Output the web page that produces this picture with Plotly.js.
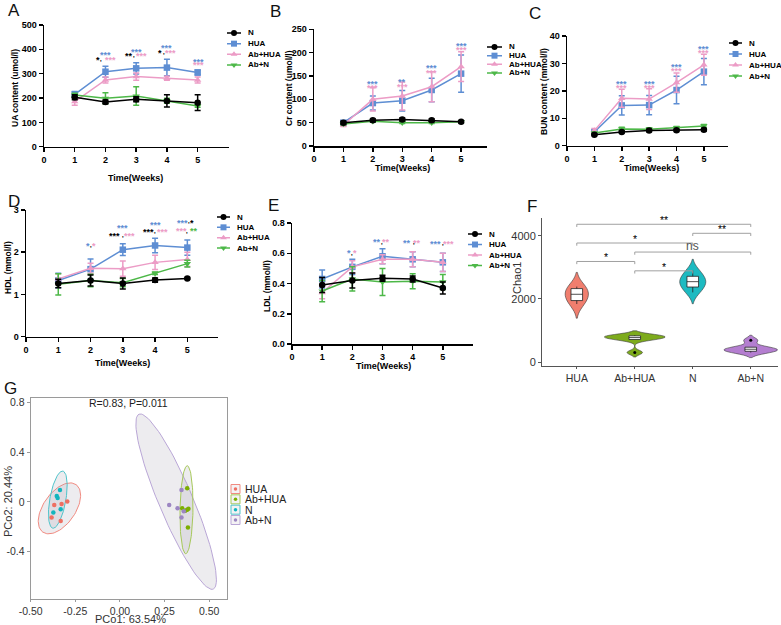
<!DOCTYPE html>
<html><head><meta charset="utf-8">
<script src="https://cdn.plot.ly/plotly-3.0.1.min.js"></script>
<style>html,body{margin:0;padding:0;background:#fff}#plot{width:781px;height:625px}</style>
</head><body><div id="plot"></div>
<script>
// ================= DATA =================
const weeks = [1, 2, 3, 4, 5];
const groups = ['N', 'HUA', 'Ab+HUA', 'Ab+N'];

// A: UA content (umol/l)
const uaN = [203, 184, 195, 188, 181],      uaNErr = [10, 8, 10, 25, 32];
const uaHUA = [215, 308, 322, 325, 305],    uaHUAErr = [12, 23, 23, 34, 10];
const uaAbHUA = [185, 274, 288, 281, 274],  uaAbHUAErr = [15, 12, 15, 8, 12];
const uaAbN = [212, 199, 208, 189, 167],    uaAbNErr = [8, 23, 38, 10, 5];
// B: Cr content (umol/l)
const crN = [50, 55, 57, 55, 52],           crNErr = [3, 3, 3, 3, 2];
const crHUA = [50, 92, 97, 120, 155],       crHUAErr = [3, 15, 22, 25, 40];
const crAbHUA = [45, 100, 107, 127, 170],   crAbHUAErr = [3, 25, 30, 32, 32];
const crAbN = [47, 53, 50, 50, 52],         crAbNErr = [2, 2, 2, 2, 2];
// C: BUN content (mmol/l)
const bunN = [4.0, 5.0, 5.5, 5.6, 5.8],      bunNErr = [0.3, 0.4, 0.4, 0.4, 0.4];
const bunHUA = [5.0, 14.7, 14.8, 20.3, 27.0], bunHUAErr = [0.8, 3.5, 3.5, 5, 4.8];
const bunAbHUA = [5.5, 17.3, 17.0, 23.0, 29.5], bunAbHUAErr = [0.8, 3.3, 3.8, 3.5, 3.8];
const bunAbN = [4.6, 6.1, 6.0, 6.5, 7.2],    bunAbNErr = [0.4, 0.6, 0.5, 0.5, 0.5];
// D: HDL (mmol/l)
const hdlN = [1.26, 1.33, 1.26, 1.34, 1.38],   hdlNErr = [0.1, 0.13, 0.13, 0.05, 0.02];
const hdlHUA = [1.33, 1.60, 2.06, 2.16, 2.11], hdlHUAErr = [0.17, 0.24, 0.14, 0.17, 0.18];
const hdlAbHUA = [1.37, 1.62, 1.61, 1.76, 1.83], hdlAbHUAErr = [0.12, 0.12, 0.18, 0.17, 0.17];
const hdlAbN = [1.24, 1.33, 1.28, 1.50, 1.73], hdlAbNErr = [0.25, 0.15, 0.1, 0.03, 0.08];
// E: LDL (mmol/l)
const ldlN = [0.39, 0.42, 0.435, 0.43, 0.37],  ldlNErr = [0.05, 0.05, 0.02, 0.02, 0.04];
const ldlHUA = [0.43, 0.51, 0.58, 0.56, 0.54], ldlHUAErr = [0.06, 0.05, 0.05, 0.05, 0.06];
const ldlAbHUA = [0.34, 0.51, 0.56, 0.56, 0.54], ldlAbHUAErr = [0.04, 0.04, 0.03, 0.05, 0.06];
const ldlAbN = [0.35, 0.43, 0.41, 0.415, 0.41], ldlAbNErr = [0.07, 0.08, 0.09, 0.05, 0.05];

// significance marks: [week, y, text, group]
const sigA = [[2,383,'***','HUA'],[2,366,'*','N'],[2,366,'***','Ab+HUA'],[2,347,"'",'N'],
  [3,397,'***','HUA'],[3,382,'**','N'],[3,382,'***','Ab+HUA'],[3,362,"'",'N'],
  [4,414,'***','HUA'],[4,393,'*','N'],[4,393,'***','Ab+HUA'],[4,373,"'",'N'],
  [5,356,'***','HUA'],[5,342,'***','Ab+HUA']];
const sigB = [[2,137,'***','HUA'],[2,128,'***','Ab+HUA'],[3,141,'**','HUA'],[3,130,'***','Ab+HUA'],
  [4,171,'***','HUA'],[4,161,'***','Ab+HUA'],[5,219,'***','HUA'],[5,210,'***','Ab+HUA']];
const sigC = [[2,23.4,'***','HUA'],[2,21.8,'***','Ab+HUA'],[3,23.4,'***','HUA'],[3,21.8,'***','Ab+HUA'],
  [4,29.3,'***','HUA'],[4,27.9,'***','Ab+HUA'],[5,36.1,'***','HUA'],[5,34.5,'***','Ab+HUA']];
const sigD = [[2,2.2,'*','HUA'],[2,2.2,'*','Ab+HUA'],[2,2.08,"'",'N'],
  [3,2.61,'***','HUA'],[3,2.44,'***','N'],[3,2.44,'***','Ab+HUA'],[3,2.33,"'",'N'],
  [4,2.70,'***','HUA'],[4,2.53,'***','N'],[4,2.53,'***','Ab+HUA'],[4,2.42,"'",'N'],
  [5,2.75,'***','HUA'],[5,2.75,'*','N'],[5,2.65,"'",'N'],[5,2.54,'***','Ab+HUA'],[5,2.54,'**','Ab+N'],[5,2.43,"'",'N']];
const sigE = [[2,0.613,'*','HUA'],[2,0.613,'*','Ab+HUA'],[2,0.58,"'",'N'],
  [3,0.686,'**','HUA'],[3,0.686,'**','Ab+HUA'],[3,0.653,"'",'N'],
  [4,0.681,'**','HUA'],[4,0.681,'**','Ab+HUA'],[4,0.648,"'",'N'],
  [5,0.675,'***','HUA'],[5,0.675,'***','Ab+HUA'],[5,0.642,"'",'N']];
// horizontal nudges (px) of the marks above (style only)
const dxA = [0,-7,5,-4, 0,-7,5,-2, 0,-7,4,-3, 1,1];
const dxB = [0,0,0,0,0,0,0,0];
const dxC = [0,0,0,0,0,0,0,0];
const dxD = [-3,3,0, 0,-8,7,0, 0,-7,7,0, -5,5,2,-6,7,0];
const dxE = [-3,3,0, -6,3,-1, -6,4,1, -7,6,0];

// F: Chao1 samples per group
const fCats = ['HUA', 'Ab+HUA', 'N', 'Ab+N'];
const chaoHUA = [1840, 1950, 2100, 2200, 2330, 2394];
const chaoAbHUA = [300, 715, 750, 800, 830, 850];
const chaoN = [2210, 2380, 2510, 2590, 2720, 2900];
const chaoAbN = [300, 340, 390, 420, 470, 690];
// comparisons: [group i, group j, label]
const fComps = [[0,3,'**'],[2,3,'**'],[0,2,'*'],[1,3,'ns'],[0,1,'*'],[1,2,'*']];
const fCompY = [4372, 4085, 3777, 3490, 3191, 2894];

// G: PCoA
const pcoHUAx = [-0.295, -0.327, -0.368, -0.383, -0.332];
const pcoHUAy = [0.003, -0.016, -0.024, -0.126, -0.153];
const pcoNx = [-0.336, -0.354, -0.349, -0.332, -0.373];
const pcoNy = [0.096, 0.048, 0.032, -0.059, -0.086];
const pcoAbHUAx = [0.377, 0.349, 0.366, 0.377, 0.384, 0.381];
const pcoAbHUAy = [0.110, -0.051, -0.072, -0.064, -0.056, -0.206];
const pcoAbNx = [0.345, 0.276, 0.323, 0.358, 0.345];
const pcoAbNy = [0.096, -0.024, -0.051, -0.075, -0.126];
// confidence ellipses: centre (data), semi-axes (px), angle (deg)
const ellCx = [-0.339, 0.373, -0.348, 0.315];
const ellCy = [-0.052, -0.063, 0.018, 0.002];
const ellA = [29, 44, 29, 95];
const ellB = [16, 6.5, 8, 17];
const ellAng = [55, 89, 80, -67];
const pcoStat = 'R=0.83, P=0.011';

// ================= STYLE / LAYOUT =================
const W = 781, H = 625;
const FONT = 'Liberation Sans, Arial, sans-serif';
const px = v => v / W, py = v => 1 - v / H;
const xd = (a, b) => [px(a), px(b)];
const yd = (top, bot) => [py(bot), py(top)];
const col = {'N': '#000000', 'HUA': '#5E8ED3', 'Ab+HUA': '#EC9CC6', 'Ab+N': '#4DB848'};
const sym = {'N': 'circle', 'HUA': 'square', 'Ab+HUA': 'triangle-up', 'Ab+N': 'triangle-down'};
const fCol = ['#F07E6E', '#7DAB1C', '#1DBAC1', '#B47ED0'];
const gCol = {'HUA': '#EE6F62', 'Ab+HUA': '#7CAE00', 'N': '#12B5BE', 'Ab+N': '#9C86C2'};
const gEll = {'HUA': '#F08A80', 'Ab+HUA': '#A6C85A', 'N': '#4FC3CA', 'Ab+N': '#B9A6D6'};

const traces = [];
const annotations = [];
const shapes = [];
const layout = {width: W, height: H, margin: {l: 0, r: 0, t: 0, b: 0}, paper_bgcolor: '#fff', plot_bgcolor: 'rgba(0,0,0,0)',
  showlegend: false, violinmode: 'overlay', font: {family: FONT}};

const ref = n => (n === 1 ? '' : String(n));
function ann(o) { annotations.push(Object.assign({showarrow: false}, o)); }

// line panels
const panels = [
  {n: 1, xdom: [44, 229], xr: 6.02, ydom: [25, 146.7], yr: [0, 500], dt: 100, fmt: '',
   data: {'N': [uaN, uaNErr], 'HUA': [uaHUA, uaHUAErr], 'Ab+HUA': [uaAbHUA, uaAbHUAErr], 'Ab+N': [uaAbN, uaAbNErr]},
   sig: sigA, dx: dxA, ytitle: 'UA content (umol/l)', yt: [15, 88], xt: [135, 178], lab: ['A', 14, 11],
   leg: {n: 8, x0: 227, x1: 241, rows: [33, 65]}},
  {n: 2, xdom: [314, 487], xr: 5.88, ydom: [29.3, 146], yr: [0, 250], dt: 50, fmt: '',
   data: {'N': [crN, crNErr], 'HUA': [crHUA, crHUAErr], 'Ab+HUA': [crAbHUA, crAbHUAErr], 'Ab+N': [crAbN, crAbNErr]},
   sig: sigB, dx: dxB, ytitle: 'Cr content (umol/l)', yt: [289, 88], xt: [402, 168], lab: ['B', 275, 12],
   leg: {n: 9, x0: 487, x1: 502, rows: [47, 73]}},
  {n: 3, xdom: [567, 728], xr: 5.88, ydom: [36, 145.7], yr: [0, 40], dt: 10, fmt: '',
   data: {'N': [bunN, bunNErr], 'HUA': [bunHUA, bunHUAErr], 'Ab+HUA': [bunAbHUA, bunAbHUAErr], 'Ab+N': [bunAbN, bunAbNErr]},
   sig: sigC, dx: dxC, ytitle: 'BUN content (mmol/l)', yt: [544, 92], xt: [651, 168], lab: ['C', 535, 13],
   leg: {n: 10, x0: 729, x1: 742, rows: [43, 76]}},
  {n: 4, xdom: [26, 218], xr: 5.95, ydom: [210, 336.7], yr: [0, 3], dt: 1, fmt: '',
   data: {'N': [hdlN, hdlNErr], 'HUA': [hdlHUA, hdlHUAErr], 'Ab+HUA': [hdlAbHUA, hdlAbHUAErr], 'Ab+N': [hdlAbN, hdlAbNErr]},
   sig: sigD, dx: dxD, ytitle: 'HDL (mmol/l)', yt: [8, 268], xt: [123, 363], lab: ['D', 14, 201],
   leg: {n: 11, x0: 217, x1: 230, rows: [217, 248]}},
  {n: 5, xdom: [292, 473], xr: 6.0, ydom: [223, 344], yr: [0, 0.8], dt: 0.2, fmt: '.1f',
   data: {'N': [ldlN, ldlNErr], 'HUA': [ldlHUA, ldlHUAErr], 'Ab+HUA': [ldlAbHUA, ldlAbHUAErr], 'Ab+N': [ldlAbN, ldlAbNErr]},
   sig: sigE, dx: dxE, ytitle: 'LDL (mmol/l)', yt: [267, 286], xt: [383, 366], lab: ['E', 273, 205],
   leg: {n: 12, x0: 468, x1: 482, rows: [234, 265.5]}},
];

const boldTick = {family: FONT, size: 9, color: '#000', weight: 'bold'};
panels.forEach(p => {
  const r = ref(p.n);
  layout['xaxis' + r] = {domain: xd(p.xdom[0], p.xdom[1]), range: [0, p.xr], anchor: 'y' + r,
    tickvals: [0, 1, 2, 3, 4, 5], showline: true, linecolor: '#000', linewidth: 1.5, ticks: 'outside',
    ticklen: 4, tickwidth: 1.5, tickcolor: '#000', showgrid: false, zeroline: false, tickfont: boldTick};
  layout['yaxis' + r] = {domain: yd(p.ydom[0], p.ydom[1]), range: p.yr, anchor: 'x' + r, dtick: p.dt,
    tickformat: p.fmt, showline: true, linecolor: '#000', linewidth: 1.5, ticks: 'outside', ticklen: 4,
    tickwidth: 1.5, tickcolor: '#000', showgrid: false, zeroline: false, tickfont: boldTick};
  ['HUA', 'Ab+HUA', 'Ab+N', 'N'].forEach(g => {
    traces.push({type: 'scatter', mode: 'lines+markers', x: weeks, y: p.data[g][0], xaxis: 'x' + r, yaxis: 'y' + r,
      line: {color: col[g], width: 1.5}, marker: {symbol: sym[g], size: 6.5, color: col[g]},
      error_y: {type: 'data', array: p.data[g][1], color: col[g], thickness: 1.5, width: 3},
      cliponaxis: false, hoverinfo: 'skip'});
  });
  p.sig.forEach((s, i) => {
    const tick = s[2] === "'";
    ann({xref: 'x' + r, yref: 'y' + r, x: s[0], y: s[1], text: s[2], xshift: p.dx[i], yshift: tick ? 0 : -2,
      xanchor: 'center', yanchor: 'middle',
      font: {family: FONT, size: tick ? 7 : 9, color: col[s[3]], weight: 'bold'}});
  });
  ann({xref: 'paper', yref: 'paper', x: px(p.yt[0]), y: py(p.yt[1]), text: p.ytitle, textangle: -90,
    xanchor: 'center', yanchor: 'middle', font: {family: FONT, size: 8.5, color: '#000', weight: 'bold'}});
  ann({xref: 'paper', yref: 'paper', x: px(p.xt[0]), y: py(p.xt[1]), text: 'Time(Weeks)',
    xanchor: 'center', yanchor: 'middle', font: {family: FONT, size: 9, color: '#000', weight: 'bold'}});
  ann({xref: 'paper', yref: 'paper', x: px(p.lab[1]), y: py(p.lab[2]), text: p.lab[0],
    xanchor: 'center', yanchor: 'middle', font: {family: FONT, size: 17, color: '#111'}});
  // manual legend
  const L = p.leg, lr = ref(L.n);
  const sp = (L.rows[1] - L.rows[0]) / 3;
  layout['xaxis' + lr] = {domain: xd(L.x0, L.x1), range: [0, 1], anchor: 'y' + lr, visible: false};
  layout['yaxis' + lr] = {domain: yd(L.rows[0] - sp / 2, L.rows[1] + sp / 2), range: [3.5, -0.5], anchor: 'x' + lr, visible: false};
  groups.forEach((g, i) => {
    traces.push({type: 'scatter', mode: 'lines', x: [0, 1], y: [i, i], xaxis: 'x' + lr, yaxis: 'y' + lr,
      line: {color: col[g], width: 1.5}, hoverinfo: 'skip', cliponaxis: false});
    traces.push({type: 'scatter', mode: 'markers', x: [0.5], y: [i], xaxis: 'x' + lr, yaxis: 'y' + lr,
      marker: {symbol: sym[g], size: 6, color: col[g]}, hoverinfo: 'skip', cliponaxis: false});
    ann({xref: 'x' + lr, yref: 'y' + lr, x: 1, y: i, xshift: 5, text: g, xanchor: 'left', yanchor: 'middle',
      font: {family: FONT, size: 8, color: '#000', weight: 'bold'}});
  });
});

// ---------- Panel F (violins) ----------
const chaoSets = [chaoHUA, chaoAbHUA, chaoN, chaoAbN];
const vBw = [225, 70, 180, 80];
const vW = [0.4, 1.04, 0.45, 0.92];
layout.xaxis6 = {domain: xd(542, 778), range: [-0.6, 3.47], anchor: 'y6', tickvals: [0, 1, 2, 3], ticktext: fCats,
  showline: true, linecolor: '#555', linewidth: 1, ticks: 'outside', ticklen: 2, tickcolor: '#555',
  showgrid: false, zeroline: false, tickfont: {family: FONT, size: 10.5, color: '#333'}};
layout.yaxis6 = {domain: yd(218, 366), range: [-127, 4571], anchor: 'x6', tickvals: [0, 2000, 4000],
  showline: true, linecolor: '#555', linewidth: 1, ticks: 'outside', ticklen: 3, tickcolor: '#555',
  showgrid: false, zeroline: false, tickfont: {family: FONT, size: 11, color: '#333'}};
chaoSets.forEach((s, i) => {
  traces.push({type: 'violin', x0: i, y: s, xaxis: 'x6', yaxis: 'y6', width: vW[i], bandwidth: vBw[i],
    spanmode: 'soft', fillcolor: fCol[i], line: {color: '#3a3a3a', width: 0.6},
    box: {visible: true, width: 0.2 / vW[i], fillcolor: '#ffffff', line: {color: '#222', width: 0.8}},
    meanline: {visible: false}, points: 'outliers', pointpos: 0, jitter: 0,
    marker: {color: '#000', size: 3, line: {width: 0}}, hoverinfo: 'skip', opacity: 1});
});
const fDrop = 85;
fComps.forEach((c, k) => {
  const y = fCompY[k];
  shapes.push({type: 'path', xref: 'x6', yref: 'y6',
    path: `M ${c[0]},${y - fDrop} L ${c[0]},${y} L ${c[1]},${y} L ${c[1]},${y - fDrop}`,
    line: {color: '#a0a0a0', width: 1}});
  const ns = c[2] === 'ns';
  ann({xref: 'x6', yref: 'y6', x: (c[0] + c[1]) / 2, y: y, text: c[2], xanchor: 'center', yanchor: 'bottom',
    yshift: ns ? -3 : -4, font: {family: FONT, size: ns ? 12 : 10.5, color: ns ? '#555555' : '#000000'}});
});
ann({xref: 'paper', yref: 'paper', x: px(517), y: py(278), text: 'Chao1', textangle: -90, xanchor: 'center',
  yanchor: 'middle', font: {family: FONT, size: 11, color: '#333'}});
ann({xref: 'paper', yref: 'paper', x: px(532), y: py(206), text: 'F', xanchor: 'center', yanchor: 'middle',
  font: {family: FONT, size: 17, color: '#111'}});

// ---------- Panel G (PCoA) ----------
const gXd = [30.7, 227], gYd = [398, 599];
const gXr = [-0.5, 0.6], gYr = [-0.78, 0.8345];
const gTickFont = {family: FONT, size: 10.5, color: '#333'};
layout.xaxis7 = {domain: xd(gXd[0], gXd[1]), range: gXr, anchor: 'y7',
  tickvals: [-0.5, -0.25, 0, 0.25, 0.5], ticktext: ['-0.50', '-0.25', '0.00', '0.25', '0.50'],
  showline: true, mirror: true, linecolor: '#9a9a9a', linewidth: 1, ticks: 'outside', ticklen: 2, tickcolor: '#9a9a9a',
  showgrid: false, zeroline: false, tickfont: gTickFont};
layout.yaxis7 = {domain: yd(gYd[0], gYd[1]), range: gYr, anchor: 'x7',
  tickvals: [-0.4, 0, 0.4, 0.8], ticktext: ['-0.4', '0', '0.4', '0.8'],
  showline: true, mirror: true, linecolor: '#9a9a9a', linewidth: 1, ticks: 'outside', ticklen: 3, tickcolor: '#9a9a9a',
  showgrid: false, zeroline: false, tickfont: gTickFont};
const gsx = (gXd[1] - gXd[0]) / (gXr[1] - gXr[0]);
const gsy = (gYd[1] - gYd[0]) / (gYr[1] - gYr[0]);
const gOrder = ['HUA', 'Ab+HUA', 'N', 'Ab+N'];
const ellOrder = [3, 0, 1, 2]; // draw big Ab+N ellipse first
ellOrder.forEach(k => {
  const th = ellAng[k] * Math.PI / 180, ex = [], ey = [];
  for (let t = 0; t <= 96; t++) {
    const u = 2 * Math.PI * t / 96;
    ex.push(ellCx[k] + (ellA[k] * Math.cos(th) * Math.cos(u) - ellB[k] * Math.sin(th) * Math.sin(u)) / gsx);
    ey.push(ellCy[k] + (ellA[k] * Math.sin(th) * Math.cos(u) + ellB[k] * Math.cos(th) * Math.sin(u)) / gsy);
  }
  traces.push({type: 'scatter', mode: 'lines', x: ex, y: ey, xaxis: 'x7', yaxis: 'y7', fill: 'toself',
    fillcolor: 'rgba(165,160,175,0.2)', line: {color: gEll[gOrder[k]], width: 1}, hoverinfo: 'skip'});
});
const gPts = {'HUA': [pcoHUAx, pcoHUAy], 'Ab+HUA': [pcoAbHUAx, pcoAbHUAy], 'N': [pcoNx, pcoNy], 'Ab+N': [pcoAbNx, pcoAbNy]};
gOrder.forEach(g => {
  traces.push({type: 'scatter', mode: 'markers', x: gPts[g][0], y: gPts[g][1], xaxis: 'x7', yaxis: 'y7',
    marker: {color: gCol[g], size: 4.5}, hoverinfo: 'skip'});
});
ann({xref: 'paper', yref: 'paper', x: px(128), y: py(403), text: pcoStat, xanchor: 'center', yanchor: 'middle',
  font: {family: FONT, size: 10.5, color: '#222'}});
ann({xref: 'paper', yref: 'paper', x: px(130), y: py(619), text: 'PCo1: 63.54%', xanchor: 'center', yanchor: 'middle',
  font: {family: FONT, size: 11, color: '#333'}});
ann({xref: 'paper', yref: 'paper', x: px(8), y: py(502), text: 'PCo2: 20.44%', textangle: -90, xanchor: 'center',
  yanchor: 'middle', font: {family: FONT, size: 11, color: '#333'}});
ann({xref: 'paper', yref: 'paper', x: px(10), y: py(388), text: 'G', xanchor: 'center', yanchor: 'middle',
  font: {family: FONT, size: 17, color: '#111'}});
// G legend
const gRows = [489, 520], gsp = (gRows[1] - gRows[0]) / 3;
layout.xaxis13 = {domain: xd(231, 240), range: [0, 1], anchor: 'y13', visible: false};
layout.yaxis13 = {domain: yd(gRows[0] - gsp / 2, gRows[1] + gsp / 2), range: [3.5, -0.5], anchor: 'x13', visible: false};
gOrder.forEach((g, i) => {
  traces.push({type: 'scatter', mode: 'markers', x: [0.5], y: [i], xaxis: 'x13', yaxis: 'y13',
    marker: {symbol: 'square', size: 9, color: '#f4f2f4', line: {color: gEll[g], width: 1}}, hoverinfo: 'skip', cliponaxis: false});
  traces.push({type: 'scatter', mode: 'markers', x: [0.5], y: [i], xaxis: 'x13', yaxis: 'y13',
    marker: {color: gCol[g], size: 3.5}, hoverinfo: 'skip', cliponaxis: false});
  ann({xref: 'x13', yref: 'y13', x: 1, y: i, xshift: 3, text: g, xanchor: 'left', yanchor: 'middle',
    font: {family: FONT, size: 10.5, color: '#222'}});
});

layout.annotations = annotations;
layout.shapes = shapes;
Plotly.newPlot('plot', traces, layout, {staticPlot: true, displayModeBar: false});
</script>
</body></html>
